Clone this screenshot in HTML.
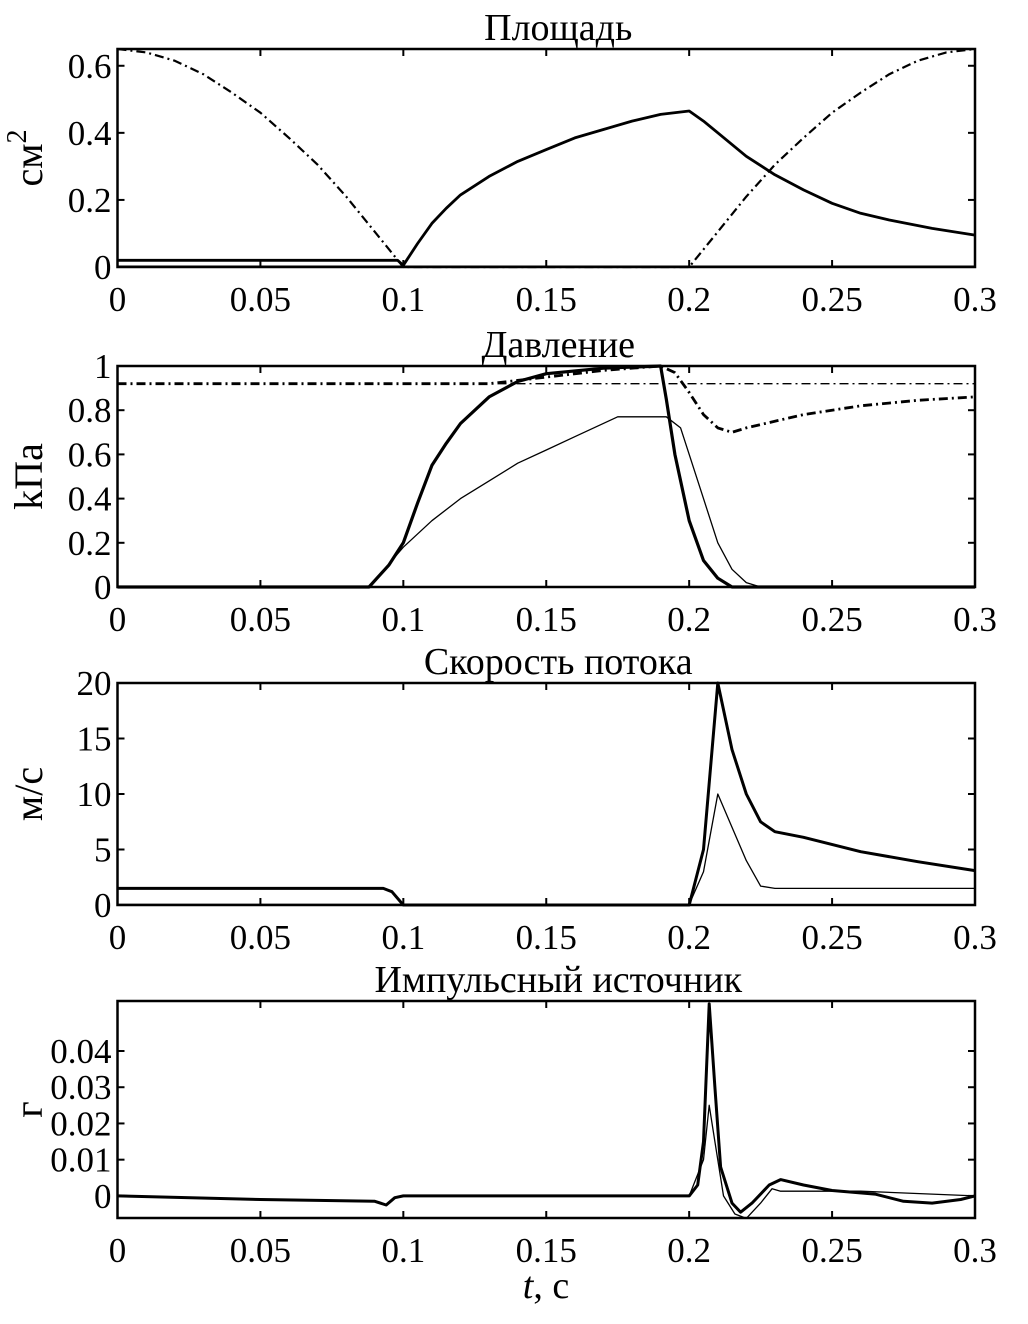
<!DOCTYPE html>
<html><head><meta charset="utf-8"><style>
html,body{margin:0;padding:0;background:#fff;}
svg{display:block;font-family:"Liberation Serif","DejaVu Serif",serif;}
</style></head><body>
<svg id="c" width="1028" height="1324" viewBox="0 0 1028 1324"></svg>
<script>
const xTicks=[0,0.05,0.1,0.15,0.2,0.25,0.3];
const xTickLabels=["0","0.05","0.1","0.15","0.2","0.25","0.3"];
// Panel 1: area
const p1Solid=[[0,0.02],[0.098,0.02],[0.1,0.005],[0.105,0.07],[0.11,0.13],[0.115,0.175],[0.12,0.215],[0.13,0.27],[0.14,0.315],[0.15,0.35],[0.16,0.385],[0.17,0.41],[0.18,0.435],[0.19,0.455],[0.2,0.465],[0.205,0.435],[0.21,0.4],[0.22,0.33],[0.23,0.275],[0.24,0.23],[0.25,0.19],[0.26,0.16],[0.27,0.14],[0.285,0.115],[0.3,0.095]];
const p1Dash=[[0,0.65],[0.01,0.64],[0.02,0.615],[0.03,0.575],[0.04,0.52],[0.05,0.46],[0.06,0.385],[0.07,0.305],[0.08,0.21],[0.09,0.105],[0.1,0],[0.2,0],[0.21,0.105],[0.22,0.21],[0.23,0.305],[0.24,0.385],[0.25,0.46],[0.26,0.52],[0.27,0.575],[0.28,0.615],[0.29,0.64],[0.3,0.65]];
const p1Base=[[0,0.002],[0.3,0.002]];
// Panel 2: pressure
const p2DashThick=[[0,0.92],[0.13,0.92],[0.15,0.95],[0.17,0.98],[0.19,1.0],[0.195,0.97],[0.2,0.88],[0.205,0.78],[0.21,0.72],[0.215,0.7],[0.22,0.72],[0.24,0.78],[0.26,0.82],[0.28,0.845],[0.3,0.86]];
const p2DashThin=[[0,0.92],[0.3,0.92]];
const p2Thick=[[0,0],[0.088,0],[0.095,0.1],[0.1,0.2],[0.105,0.38],[0.11,0.55],[0.115,0.65],[0.12,0.74],[0.13,0.86],[0.14,0.93],[0.15,0.965],[0.17,0.99],[0.19,1.0],[0.192,0.85],[0.195,0.6],[0.2,0.3],[0.205,0.12],[0.21,0.04],[0.215,0],[0.3,0]];
const p2Thin=[[0,0],[0.088,0],[0.1,0.18],[0.11,0.3],[0.12,0.4],[0.13,0.48],[0.14,0.56],[0.15,0.62],[0.16,0.68],[0.175,0.77],[0.192,0.77],[0.197,0.72],[0.2,0.6],[0.205,0.4],[0.21,0.2],[0.215,0.08],[0.22,0.02],[0.225,0],[0.3,0]];
// Panel 3: velocity
const p3Thick=[[0,1.5],[0.093,1.5],[0.096,1.2],[0.1,0],[0.2,0],[0.205,5],[0.21,20],[0.215,14],[0.22,10],[0.225,7.5],[0.23,6.6],[0.24,6.1],[0.26,4.8],[0.28,3.9],[0.3,3.1]];
const p3Thin=[[0,0.05],[0.2,0.05],[0.205,3],[0.21,10],[0.215,7],[0.22,4],[0.225,1.7],[0.23,1.5],[0.3,1.5]];
// Panel 4: impulse
const p4Thick=[[0,0],[0.05,-0.001],[0.09,-0.0015],[0.094,-0.0025],[0.097,-0.0005],[0.1,0],[0.2,0],[0.203,0.003],[0.205,0.015],[0.207,0.053],[0.209,0.03],[0.211,0.008],[0.215,-0.002],[0.218,-0.0045],[0.222,-0.002],[0.228,0.003],[0.232,0.0045],[0.24,0.003],[0.25,0.0015],[0.265,0.0005],[0.275,-0.0015],[0.285,-0.002],[0.295,-0.001],[0.3,0]];
const p4Thin=[[0,0],[0.05,-0.001],[0.09,-0.0015],[0.094,-0.0025],[0.097,-0.0005],[0.1,0],[0.2,0],[0.205,0.01],[0.207,0.025],[0.209,0.015],[0.212,0],[0.216,-0.005],[0.22,-0.0062],[0.225,-0.002],[0.229,0.002],[0.232,0.0013],[0.26,0.0013],[0.3,0]];
const p1Ticks=[0,0.2,0.4,0.6], p1Labels=["0","0.2","0.4","0.6"];
const p2Ticks=[0,0.2,0.4,0.6,0.8,1], p2Labels=["0","0.2","0.4","0.6","0.8","1"];
const p3Ticks=[0,5,10,15,20], p3Labels=["0","5","10","15","20"];
const p4Ticks=[0,0.01,0.02,0.03,0.04], p4Labels=["0","0.01","0.02","0.03","0.04"];

const NS="http://www.w3.org/2000/svg";
const svg=document.getElementById('c');
const X0=117.5,X1=975;
function mk(tag,attrs,parent){const e=document.createElementNS(NS,tag);for(const k in attrs)e.setAttribute(k,attrs[k]);(parent||svg).appendChild(e);return e;}
function panel(name,top,bot,ymin,ymax,ticks,labels,title,ylab,series){
  const g=mk('g',{});
  
  
  const sx=t=>X0+(t-0)/(0.3)*(X1-X0);
  const sy=v=>bot-(v-ymin)/(ymax-ymin)*(bot-top);
  series.forEach(s=>{
    const p=mk('polyline',{points:s.d.map(q=>sx(q[0]).toFixed(1)+','+sy(q[1]).toFixed(1)).join(' '),fill:'none',stroke:'#000','stroke-width':s.w,'stroke-linejoin':'round'},g);
    if(s.dash)p.setAttribute('stroke-dasharray',s.dash);
    
    
  });
  const box=mk('rect',{x:X0,y:top,width:X1-X0,height:bot-top,fill:'none',stroke:'#000','stroke-width':2.5},g);
  
  
  xTicks.forEach((t,i)=>{
    mk('line',{x1:sx(t),x2:sx(t),y1:bot,y2:bot-7,stroke:'#000','stroke-width':2},g);
    mk('line',{x1:sx(t),x2:sx(t),y1:top,y2:top+7,stroke:'#000','stroke-width':2},g);
    const tx=mk('text',{x:sx(t),y:bot+44,'font-size':35,'text-anchor':'middle'},g);
    tx.textContent=xTickLabels[i];
    
    
  });
  ticks.forEach((v,i)=>{
    mk('line',{x1:X0,x2:X0+7,y1:sy(v),y2:sy(v),stroke:'#000','stroke-width':2},g);
    mk('line',{x1:X1,x2:X1-7,y1:sy(v),y2:sy(v),stroke:'#000','stroke-width':2},g);
    const tx=mk('text',{x:X0-6,y:sy(v)+12,'font-size':35,'text-anchor':'end'},g);
    tx.textContent=labels[i];
    
    
  });
  const tt=mk('text',{x:(X0+X1)/2+12,y:top-9,'font-size':38,'text-anchor':'middle'},g);
  tt.textContent=title;
  
  
  const cy=(top+bot)/2;
  const yl=mk('text',{x:0,y:0,'font-size':40,'text-anchor':'middle',transform:`translate(42,${cy}) rotate(-90)`},g);
  yl.innerHTML=ylab;
  
  
}
panel('area-panel',49,267,0,0.65,p1Ticks,p1Labels,'Площадь','см<tspan dy="-16" font-size="28">2</tspan>',[
  {d:p1Base,w:1.5,n:'area-baseline'},{d:p1Solid,w:2.8,n:'area-solid'},{d:p1Dash,w:2.2,dash:'9 4 2 4',n:'area-dashdot'}]);
panel('pressure-panel',366,587,0,1,p2Ticks,p2Labels,'Давление','kПа',[
  {d:p2DashThin,w:1.3,dash:'9 4 2 4',n:'pressure-dashdot-thin'},{d:p2DashThick,w:2.8,dash:'9 4 2 4',n:'pressure-dashdot-thick'},
  {d:p2Thin,w:1.3,n:'pressure-thin'},{d:p2Thick,w:3.2,n:'pressure-thick'}]);
panel('velocity-panel',683,905,0,20,p3Ticks,p3Labels,'Скорость потока','м/с',[
  {d:p3Thin,w:1.3,n:'velocity-thin'},{d:p3Thick,w:3,n:'velocity-thick'}]);
panel('impulse-panel',1001,1218,-0.0061,0.0538,p4Ticks,p4Labels,'Импульсный источник','г',[
  {d:p4Thin,w:1.3,n:'impulse-thin'},{d:p4Thick,w:3,n:'impulse-thick'}]);
const xl=mk('text',{x:546,y:1298,'font-size':38,'text-anchor':'middle'});
xl.innerHTML='<tspan font-style="italic">t</tspan>, с';


</script>
</body></html>
